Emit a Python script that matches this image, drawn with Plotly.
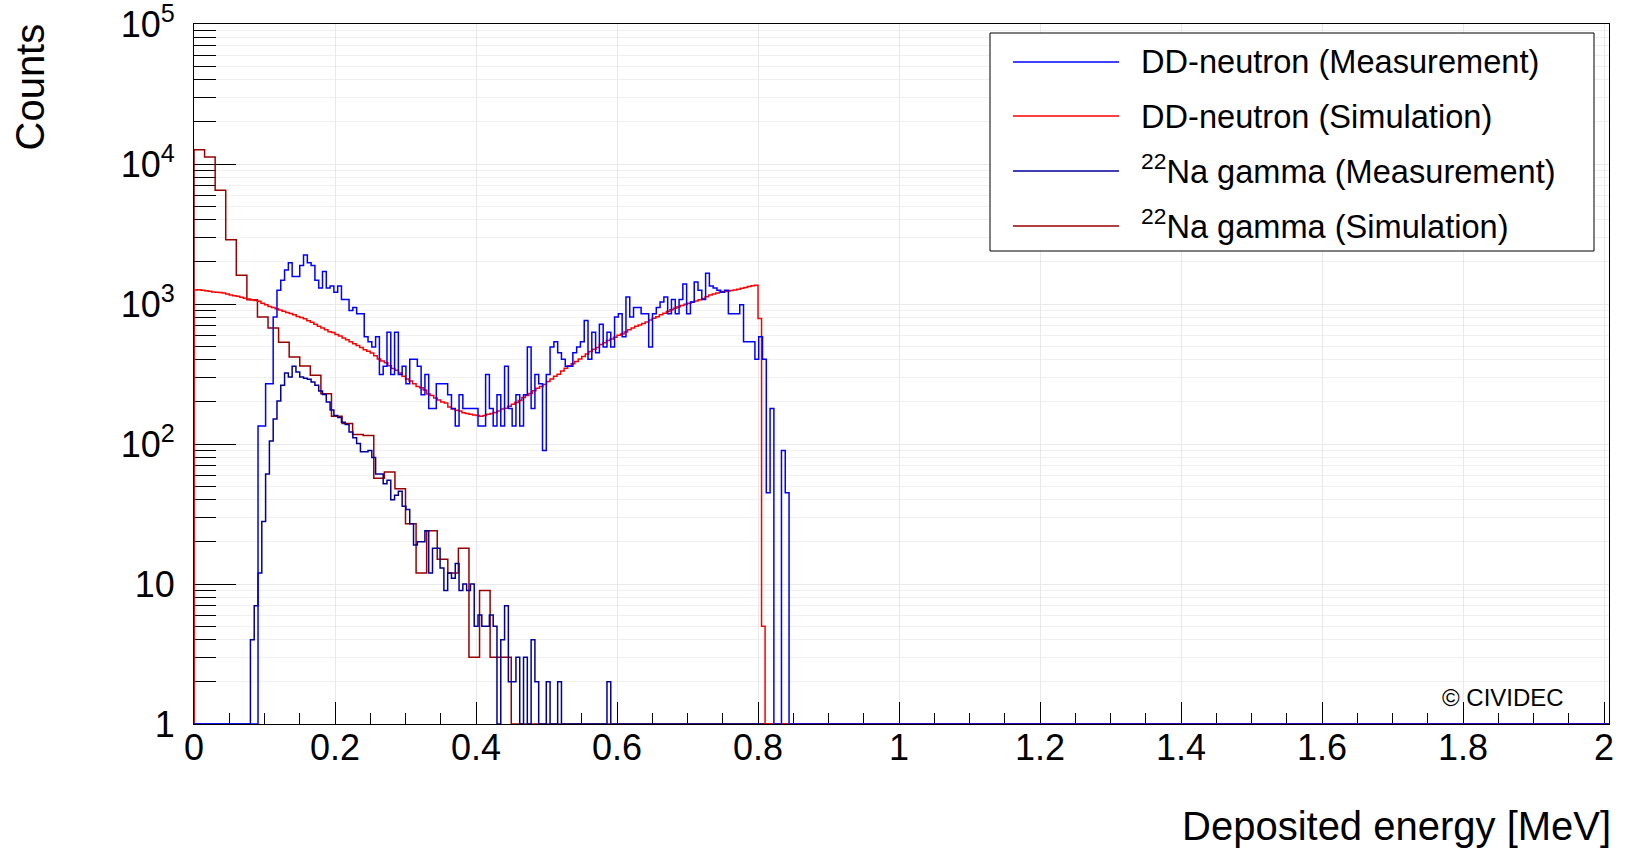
import numpy as np
import plotly.graph_objects as go

# ---------------------------------------------------------------------------
# Spectra (counts per bin)
# ---------------------------------------------------------------------------
# DD-neutron, measured: raw counts per bin, first bin starts at DD_MEAS_LO
dd_meas_counts = [
    3, 3, 6, 6, 18, 28, 33, 39, 44, 35,
    35, 42, 50, 44, 42, 33, 29, 38, 29, 30,
    27, 30, 24, 24, 20, 21, 19, 19, 13, 12,
    11, 13, 7, 8, 14, 7, 14, 7, 8, 6,
    9, 9, 8, 5, 7, 4, 4, 6, 6, 6,
    5, 4, 3, 5, 4, 4, 4, 4, 3, 3,
    7, 4, 3, 5, 3, 8, 4, 3, 5, 3,
    5, 11, 4, 7, 6, 2, 7, 11, 12, 10,
    9, 8, 8, 10, 11, 12, 17, 9, 14, 10,
    16, 11, 14, 11, 18, 19, 13, 25, 18, 21,
    21, 19, 19, 11, 19, 21, 23, 25, 19, 24,
    19, 24, 31, 19, 23, 32, 28, 24, 37, 30,
    29, 28, 27, 28, 19, 19, 19, 22, 12, 12,
    12, 9, 13, 9, 1, 4, 0, 0, 2, 1,
]

# 22Na gamma, measured: counts per bin, first bin starts at NA_MEAS_LO
na_meas_counts = [
    4, 7, 12, 28, 61, 105, 151, 203, 263, 321,
    301, 359, 327, 301, 295, 290, 277, 263, 239, 226,
    200, 175, 160, 155, 143, 138, 122, 111, 101, 88,
    88, 90, 80, 61, 61, 52, 55, 40, 43, 46,
    36, 34, 27, 19, 20, 20, 24, 12, 18, 18,
    13, 9, 12, 11, 14, 9, 10, 9, 10, 5,
    6, 5, 5, 6, 5, 0, 4, 7, 2, 2,
    3, 0, 3, 0, 4, 2, 0, 0, 2, 0,
    0, 2, 0, 0, 0, 0, 0, 0, 0, 0,
    0, 0, 0, 0, 2,
]

# DD-neutron, simulated: counts per bin from 0 MeV
dd_sim_counts = [
    1260, 1265, 1255, 1245, 1235, 1220, 1215, 1208, 1200, 1180,
    1160, 1148, 1135, 1118, 1098, 1085, 1072, 1060, 1045, 1015,
    990, 960, 945, 925, 905, 890, 870, 855, 840, 815,
    800, 785, 760, 740, 718, 695, 675, 655, 635, 625,
    605, 590, 572, 555, 538, 520, 505, 490, 472, 460,
    447, 428, 405, 392, 380, 362, 346, 336, 322, 305,
    292, 282, 270, 258, 252, 243, 228, 222, 213, 206,
    200, 196, 184, 178, 174, 172, 167, 165, 163, 161,
    160, 158, 160, 163, 165, 168, 172, 178, 180, 186,
    192, 198, 205, 215, 222, 230, 240, 250, 258, 266,
    280, 292, 305, 315, 332, 348, 362, 375, 388, 405,
    422, 440, 458, 475, 490, 515, 528, 548, 562, 580,
    598, 612, 632, 655, 675, 693, 708, 725, 745, 768,
    790, 812, 838, 860, 885, 912, 935, 955, 975, 995,
    1012, 1030, 1050, 1072, 1095, 1128, 1158, 1182, 1200, 1218,
    1230, 1236, 1248, 1262, 1275, 1296, 1315, 1335, 1352, 1362,
    787, 5,
]

# 22Na gamma, simulated: counts per bin from 0 MeV
na_sim_counts = [
    12670, 11220, 6490, 2884, 1603, 1075, 807, 674, 533, 418,
    361, 310, 229, 158, 140, 117, 115, 57, 63, 48,
    27, 12, 24, 15, 12, 18, 3, 9, 3, 3,
]

series_names = [
    "DD-neutron (Measurement)",
    "DD-neutron (Simulation)",
    "<sup>22</sup>Na gamma (Measurement)",
    "<sup>22</sup>Na gamma (Simulation)",
]

x_tick_values = [0, 0.2, 0.4, 0.6, 0.8, 1, 1.2, 1.4, 1.6, 1.8, 2]
x_tick_labels = ["0", "0.2", "0.4", "0.6", "0.8", "1", "1.2", "1.4", "1.6", "1.8", "2"]
y_tick_values = [1, 10, 100, 1000, 10000, 100000]
y_tick_labels = ["1", "10", "10<sup>2</sup>", "10<sup>3</sup>", "10<sup>4</sup>", "10<sup>5</sup>"]

# ---------------------------------------------------------------------------
# Binning / normalisation
# ---------------------------------------------------------------------------
MEAS_BIN = 0.00538          # MeV, measured spectra
DD_MEAS_LO = 0.0908         # MeV
NA_MEAS_LO = DD_MEAS_LO - 2 * MEAS_BIN
DD_MEAS_NORM = 44.9         # measured DD spectrum scaled onto the simulation
DD_SIM_BIN = 0.005          # MeV
NA_SIM_BIN = 0.015          # MeV

X_MIN, X_MAX = 0.0, 2.007
Y_LOG_RANGE = [0, 5.0005]
Y_FLOOR = 1.0               # empty bins sit on the lower frame (log axis)

COL_DD_MEAS = "#0000ff"
COL_DD_SIM = "#ff0000"
COL_NA_MEAS = "#000099"
COL_NA_SIM = "#990000"

FONT = "Liberation Sans, Arial, Helvetica, sans-serif"

W, H = 1625, 850
ML, MR, MT, MB = 194, 16, 24, 126
PW, PH = W - ML - MR, H - MT - MB


def px_x(px):
    return (px - ML) / PW


def px_y(py):
    return (H - MB - py) / PH


def hist_trace(lo, width, counts, scale, color, name):
    vals = np.asarray(counts, dtype=float) * scale
    edges = lo + width * np.arange(len(vals) + 1)
    yv = np.where(vals > 0, vals, Y_FLOOR)
    xs = np.concatenate([[X_MIN], edges, [X_MAX]])
    ys = np.concatenate([[Y_FLOOR], yv, [Y_FLOOR, Y_FLOOR]])
    return go.Scatter(
        x=xs, y=ys, mode="lines", name=name, showlegend=False,
        line=dict(color=color, width=1.5, shape="hv"),
        hoverinfo="skip",
    )


fig = go.Figure()
fig.add_trace(hist_trace(0.0, NA_SIM_BIN, na_sim_counts, 1.0, COL_NA_SIM, series_names[3]))
fig.add_trace(hist_trace(NA_MEAS_LO, MEAS_BIN, na_meas_counts, 1.0, COL_NA_MEAS, series_names[2]))
fig.add_trace(hist_trace(0.0, DD_SIM_BIN, dd_sim_counts, 1.0, COL_DD_SIM, series_names[1]))
fig.add_trace(hist_trace(DD_MEAS_LO, MEAS_BIN, dd_meas_counts, DD_MEAS_NORM, COL_DD_MEAS, series_names[0]))

grid_col = "#e9e9e9"
minor_y = [m * 10 ** d for d in range(5) for m in range(2, 10)]

fig.update_xaxes(
    range=[X_MIN, X_MAX], tickmode="array", tickvals=x_tick_values, ticktext=x_tick_labels,
    ticks="inside", ticklen=22, tickwidth=1, tickcolor="black",
    showline=True, linecolor="black", linewidth=1, mirror=True,
    showgrid=True, gridcolor=grid_col, gridwidth=1, zeroline=False,
    minor=dict(dtick=0.05, tick0=0, ticks="inside", ticklen=11, tickwidth=1,
               tickcolor="black", showgrid=False),
    tickfont=dict(family=FONT, size=36, color="black"),
    ticklabelstandoff=-8, ticklabeloverflow="allow", automargin=False,
    layer="below traces",
)
fig.update_yaxes(
    type="log", range=Y_LOG_RANGE, tickmode="array", tickvals=y_tick_values, ticktext=y_tick_labels,
    ticks="inside", ticklen=42, tickwidth=1, tickcolor="black",
    showline=True, linecolor="black", linewidth=1, mirror=True,
    showgrid=True, gridcolor=grid_col, gridwidth=1, zeroline=False,
    minor=dict(tickmode="array", tickvals=minor_y, ticks="inside", ticklen=22, tickwidth=1,
               tickcolor="black", showgrid=True, gridcolor="#f0f0f0", gridwidth=1),
    tickfont=dict(family=FONT, size=36, color="black"),
    ticklabelstandoff=11, ticklabeloverflow="allow", automargin=False,
    layer="below traces",
)

shapes = []
annotations = []

# legend box
shapes.append(dict(type="rect", xref="paper", yref="paper",
                   x0=px_x(990), x1=px_x(1594), y0=px_y(251), y1=px_y(33),
                   line=dict(color="black", width=1), fillcolor="white", layer="above"))
legend_rows = [62, 116, 171, 226]
legend_text_rows = [62, 116, 169, 224]
legend_cols = [COL_DD_MEAS, COL_DD_SIM, COL_NA_MEAS, COL_NA_SIM]
for name, col, ry, ty in zip(series_names, legend_cols, legend_rows, legend_text_rows):
    shapes.append(dict(type="line", xref="paper", yref="paper",
                       x0=px_x(1013), x1=px_x(1119), y0=px_y(ry), y1=px_y(ry),
                       line=dict(color=col, width=1.5), layer="above"))
    annotations.append(dict(text=name, xref="paper", yref="paper",
                            x=px_x(1139), y=px_y(ty), xanchor="left", yanchor="middle",
                            showarrow=False, font=dict(family=FONT, size=32.6, color="black")))

annotations.append(dict(text="Counts", xref="paper", yref="paper", textangle=-90,
                        x=px_x(30), y=px_y(22), xanchor="center", yanchor="top",
                        showarrow=False, font=dict(family=FONT, size=40, color="black")))
annotations.append(dict(text="Deposited energy [MeV]", xref="paper", yref="paper",
                        x=px_x(1613), y=px_y(826), xanchor="right", yanchor="middle",
                        showarrow=False, font=dict(family=FONT, size=40, color="black")))
annotations.append(dict(text="\u00a9 CIVIDEC", xref="paper", yref="paper",
                        x=px_x(1440), y=px_y(697), xanchor="left", yanchor="middle",
                        showarrow=False, font=dict(family=FONT, size=24, color="black")))

fig.update_layout(
    width=W, height=H,
    margin=dict(l=ML, r=MR, t=MT, b=MB, pad=0, autoexpand=False),
    paper_bgcolor="white", plot_bgcolor="white",
    showlegend=False,
    shapes=shapes, annotations=annotations,
    font=dict(family=FONT, color="black"),
)

fig.write_html("out.html")
